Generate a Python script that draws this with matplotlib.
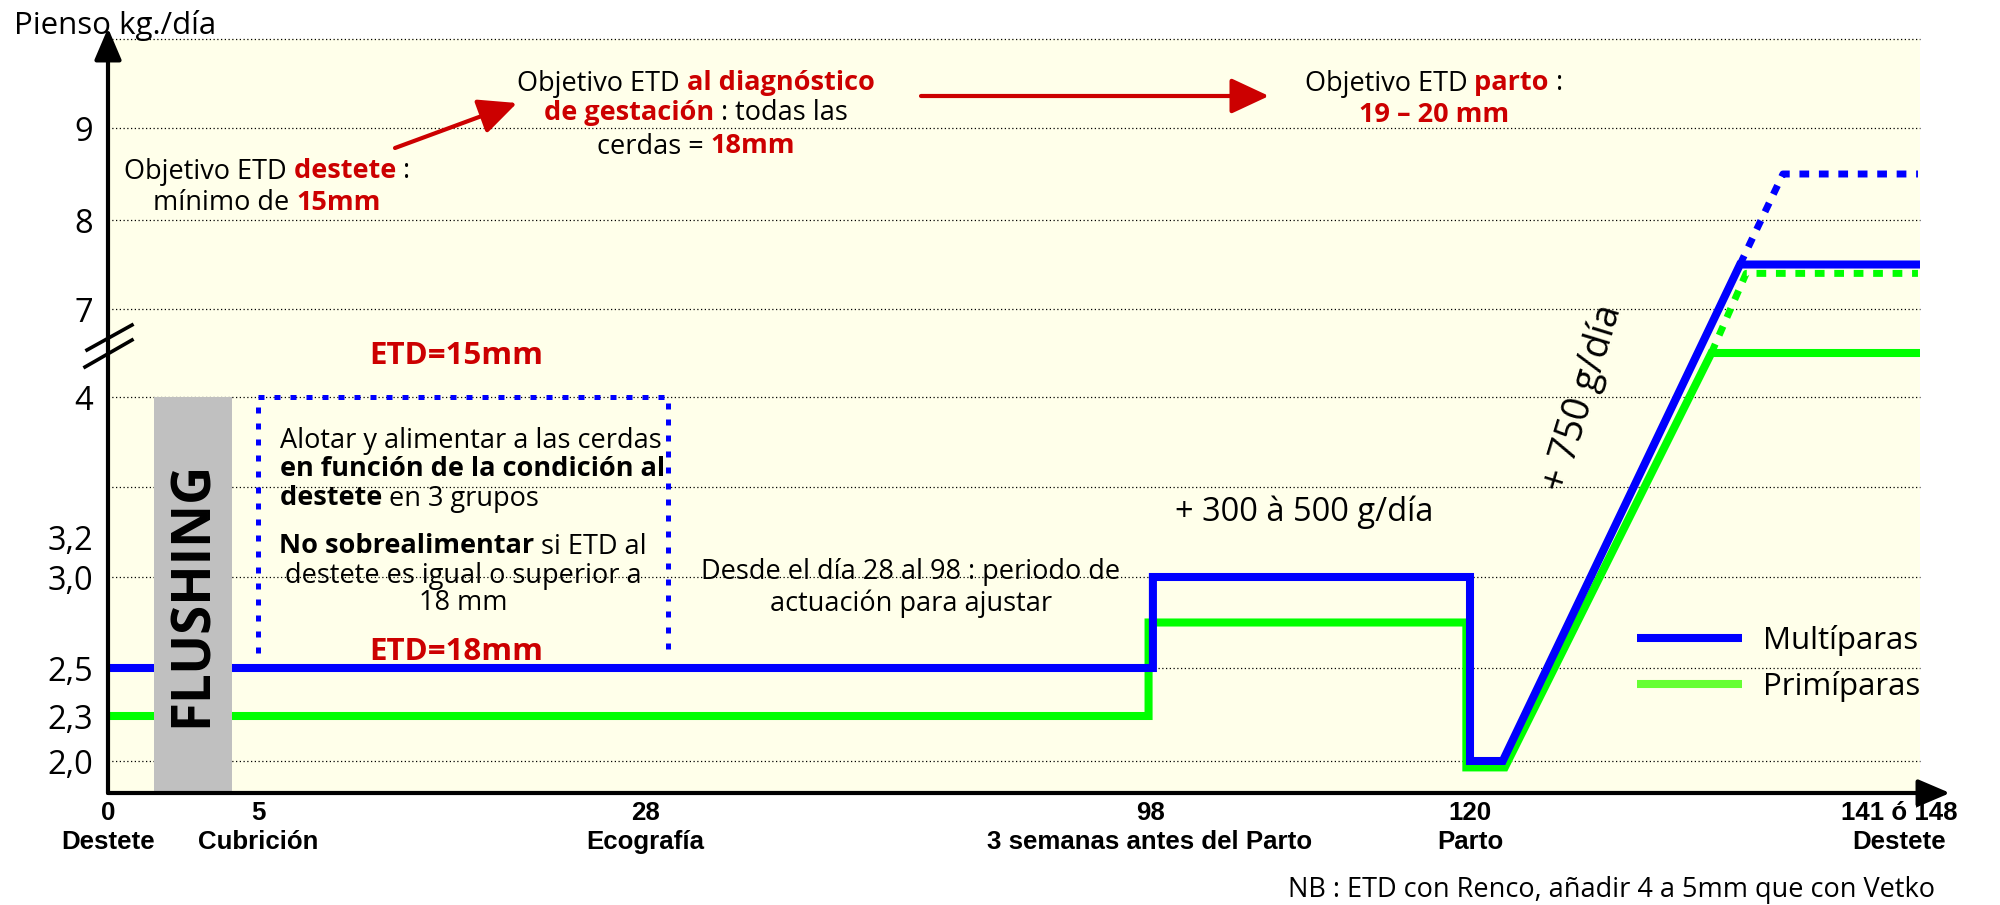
import numpy as np
import matplotlib
matplotlib.use("Agg")
import matplotlib.pyplot as plt
from matplotlib.lines import Line2D
from matplotlib.font_manager import FontProperties

# ---------------- data ----------------
tick_days = [0, 5, 28, 98, 120, 141]
tick_numbers = ["0", "5", "28", "98", "120", "141 ó 148"]
tick_names = ["Destete", "Cubrición", "Ecografía", "3 semanas antes del Parto", "Parto", "Destete"]

feed_ticks = [2.0, 2.3, 2.5, 3.0, 3.2, 4, 7, 8, 9]
feed_tick_labels = ["2,0", "2,3", "2,5", "3,0", "3,2", "4", "7", "8", "9"]
feed_grid = [2.0, 2.5, 3.0, 3.5, 4, 7, 8, 9, 10]

multi_days = [0, 98.2, 98.2, 120, 120, 121.6, 133.2, 141.9]
multi_feed = [2.5, 2.5, 3.0, 3.0, 2.0, 2.0, 7.5, 7.5]
multi_max_days = [133.2, 135.3, 141.9]
multi_max_feed = [7.5, 8.5, 8.5]

primi_days = [0, 97.8, 97.8, 119.75, 119.75, 121.7, 131.8, 141.9]
primi_feed = [2.3, 2.3, 2.75, 2.75, 1.96, 1.96, 5.5, 5.5]
primi_max_days = [131.8, 133.5, 141.9]
primi_max_feed = [5.5, 7.4, 7.4]

flushing_days = [1.53, 4.13]
flushing_top = 4.0
group_box_days = [5, 31.2]
group_box_feed = [2.58, 4.0]

legend_labels = ["Multíparas", "Primíparas"]

# ---------------- schematic (broken) scales ----------------
W, H = 2000, 905
X_KNOTS_DAY = [0, 5, 28, 98, 120, 142]
X_KNOTS_PX = [108, 258, 645, 1150, 1470, 1920]
Y_KNOTS_VAL = [1.8, 2.0, 2.3, 2.5, 3.0, 3.2, 3.5, 4, 7, 8, 9, 10]
Y_KNOTS_PX = [793, 761, 716, 668, 577, 537, 487, 397, 309, 220, 128, 39]


def make_pwl(xk, yk):
    xk = np.asarray(xk, float)
    yk = np.asarray(yk, float)
    s0 = (yk[1] - yk[0]) / (xk[1] - xk[0])
    s1 = (yk[-1] - yk[-2]) / (xk[-1] - xk[-2])

    def f(v):
        v = np.asarray(v, float)
        out = np.interp(v, xk, yk)
        out = np.where(v < xk[0], yk[0] + (v - xk[0]) * s0, out)
        out = np.where(v > xk[-1], yk[-1] + (v - xk[-1]) * s1, out)
        return out
    return f


x_fwd = make_pwl(X_KNOTS_DAY, X_KNOTS_PX)
x_inv = make_pwl(X_KNOTS_PX, X_KNOTS_DAY)
y_up = [H - p for p in Y_KNOTS_PX]
y_fwd = make_pwl(Y_KNOTS_VAL, y_up)
y_inv = make_pwl(y_up, Y_KNOTS_VAL)

BLUE = "#0000FF"
GREEN = "#00FF00"
LEG_GREEN = "#66FF33"
RED = "#CC0000"
GRAY = "#C0C0C0"
BG = "#FFFFEA"
COMIC = ["Open Sans", "DejaVu Sans"]
ARIAL = ["Liberation Sans", "DejaVu Sans"]

fig = plt.figure(figsize=(W / 100, H / 100), dpi=100)
fig.patch.set_facecolor("white")
renderer = fig.canvas.get_renderer()

ax = fig.add_axes([108 / W, 1 - 793 / H, (1920 - 108) / W, (793 - 39) / H])
ax.set_facecolor(BG)
ax.set_xscale("function", functions=(x_fwd, x_inv))
ax.set_yscale("function", functions=(y_fwd, y_inv))
ax.set_xlim(0, 142)
ax.set_ylim(1.8, 10)
for s in ax.spines.values():
    s.set_visible(False)

# grid lines
for v in feed_grid:
    ax.axhline(v, color="black", lw=0.9, ls=(0, (1, 2)), zorder=1, clip_on=False)

# feed lines
ax.plot(primi_days, primi_feed, color=GREEN, lw=5.8, solid_joinstyle="miter", zorder=3)
ax.plot(primi_max_days, primi_max_feed, color=GREEN, lw=5, ls=(0, (1.4, 1.4)),
        dash_capstyle="butt", zorder=3)
ax.plot(multi_days, multi_feed, color=BLUE, lw=5.8, solid_joinstyle="miter", zorder=3.5)
ax.plot(multi_max_days, multi_max_feed, color=BLUE, lw=5, ls=(0, (1.4, 1.4)),
        dash_capstyle="butt", zorder=3.5)

# flushing bar
ax.fill_between(flushing_days, [1.8, 1.8], [flushing_top, flushing_top], color=GRAY, lw=0, zorder=4)

# dotted group box (three sides)
bx0, bx1 = group_box_days
by0, by1 = group_box_feed
ax.plot([bx0, bx0, bx1, bx1], [by0, by1, by1, by0], color=BLUE, lw=3.6,
        ls=(0, (1.2, 2.0)), dash_capstyle="butt", zorder=2.5)

# ticks
ax.set_xticks(tick_days, labels=[f"{n}\n{m}" for n, m in zip(tick_numbers, tick_names)])
ax.set_yticks(feed_ticks, labels=feed_tick_labels)
ax.tick_params(axis="x", length=0, pad=6)
ax.tick_params(axis="y", length=0, pad=11)
for t in ax.get_xticklabels():
    t.set_fontproperties(FontProperties(family=ARIAL, weight="bold", size=18.6))
    t.set_linespacing(1.25)
for t in ax.get_yticklabels():
    t.set_fontproperties(FontProperties(family=COMIC, size=23.5))

# axis arrows
arrow_kw = dict(arrowstyle="-|>,head_length=0.75,head_width=0.32", color="black", lw=3,
                mutation_scale=26, shrinkA=0, shrinkB=0)
ax.annotate("", xy=(0, 1 + 11 / 754), xytext=(0, 0), xycoords="axes fraction",
            arrowprops=arrow_kw, annotation_clip=False, zorder=6)
ax.annotate("", xy=(1 + 30 / 1812, 0), xytext=(0, 0), xycoords="axes fraction",
            arrowprops=arrow_kw, annotation_clip=False, zorder=6)

# axis break marks
for (x0, y0, x1, y1) in [(87, 350, 132, 325), (85, 367, 132, 340)]:
    fig.add_artist(Line2D([x0 / W, x1 / W], [1 - y0 / H, 1 - y1 / H], transform=fig.transFigure,
                          color="black", lw=2.6))


# ---------------- text helpers ----------------
def text_width(s, size, weight, family):
    t = fig.text(0, 0, "|" + s + "|", fontsize=size, fontweight=weight, family=family)
    t2 = fig.text(0, 0, "||", fontsize=size, fontweight=weight, family=family)
    w = t.get_window_extent(renderer).width - t2.get_window_extent(renderer).width
    t.remove()
    t2.remove()
    return w


def rich_line(x, y, segs, size=19.5, ha="center", family=COMIC):
    segs = [(s[0], s[1] if len(s) > 1 else "black", s[2] if len(s) > 2 else "normal") for s in segs]
    widths = [text_width(s, size, wgt, family) for s, c, wgt in segs]
    total = sum(widths)
    xx = x - total / 2 if ha == "center" else x
    for (s, c, wgt), w in zip(segs, widths):
        fig.text(xx / W, 1 - y / H, s, color=c, fontsize=size, fontweight=wgt, family=family,
                 ha="left", va="center_baseline", zorder=7)
        xx += w


K = "black"
B = "bold"
N = "normal"
rich_line(115, 22, [("Pienso kg./día",)], size=22.5)

rich_line(267, 168, [("Objetivo ETD ", K, N), ("destete ", RED, B), (":", K, N)])
rich_line(267, 200, [("mínimo de ", K, N), ("15mm", RED, B)])

rich_line(696, 80, [("Objetivo ETD ", K, N), ("al diagnóstico", RED, B)])
rich_line(696, 110, [("de gestación ", RED, B), (": todas las", K, N)])
rich_line(696, 143, [("cerdas = ", K, N), ("18mm", RED, B)])

rich_line(1434, 80, [("Objetivo ETD ", K, N), ("parto ", RED, B), (":", K, N)])
rich_line(1434, 112, [("19 – 20 mm", RED, B)])

rich_line(456, 352, [("ETD=15mm", RED, B)], size=22.5)
rich_line(456, 648, [("ETD=18mm", RED, B)], size=22.5)

rich_line(280, 437, [("Alotar y alimentar a las cerdas", K, N)], ha="left")
rich_line(280, 466, [("en función de la condición al", K, B)], ha="left")
rich_line(280, 495, [("destete ", K, B), ("en 3 grupos", K, N)], ha="left")
rich_line(463, 543, [("No sobrealimentar ", K, B), ("si ETD al", K, N)])
rich_line(463, 573, [("destete es igual o superior a", K, N)])
rich_line(463, 600, [("18 mm", K, N)])

rich_line(911, 568, [("Desde el día 28 al 98 : periodo de", K, N)])
rich_line(911, 600, [("actuación para ajustar", K, N)])

rich_line(1304, 508, [("+ 300 à 500 g/día", K, N)], size=23.5)
rich_line(1611, 886, [("NB : ETD con Renco, añadir 4 a 5mm que con Vetko", K, N)])

fig.text(1583 / W, 1 - 398 / H, "+ 750 g/día", rotation=73, rotation_mode="anchor",
         ha="center", va="center", fontsize=27, family=COMIC, zorder=7)

fig.text(193 / W, 1 - 594 / H, "FLUSHING", rotation=90, ha="center", va="center",
         fontsize=38, fontweight="bold", family=COMIC, zorder=7)

# red annotation arrows
red_kw = dict(arrowstyle="-|>,head_length=0.9,head_width=0.42", color=RED, lw=3,
              mutation_scale=26, shrinkA=0, shrinkB=0)
ax.annotate("", xy=(517, H - 103), xytext=(395, H - 148), xycoords="figure pixels",
            textcoords="figure pixels", arrowprops=red_kw, annotation_clip=False)
ax.annotate("", xy=(1269, H - 96), xytext=(921, H - 96), xycoords="figure pixels",
            textcoords="figure pixels", arrowprops=red_kw, annotation_clip=False)

# legend
handles = [Line2D([], [], color=BLUE, lw=5.8, solid_capstyle="butt"),
           Line2D([], [], color=LEG_GREEN, lw=5.8, solid_capstyle="butt")]
ax.legend(handles, legend_labels, loc="center left", bbox_to_anchor=(1637 / W, 1 - 663.5 / H),
          bbox_transform=fig.transFigure, frameon=False, borderpad=0, borderaxespad=0,
          handlelength=3.36, handletextpad=0.67, labelspacing=0.5,
          prop=FontProperties(family=COMIC, size=22.5))

fig.savefig("out.png", dpi=100, facecolor="white")
